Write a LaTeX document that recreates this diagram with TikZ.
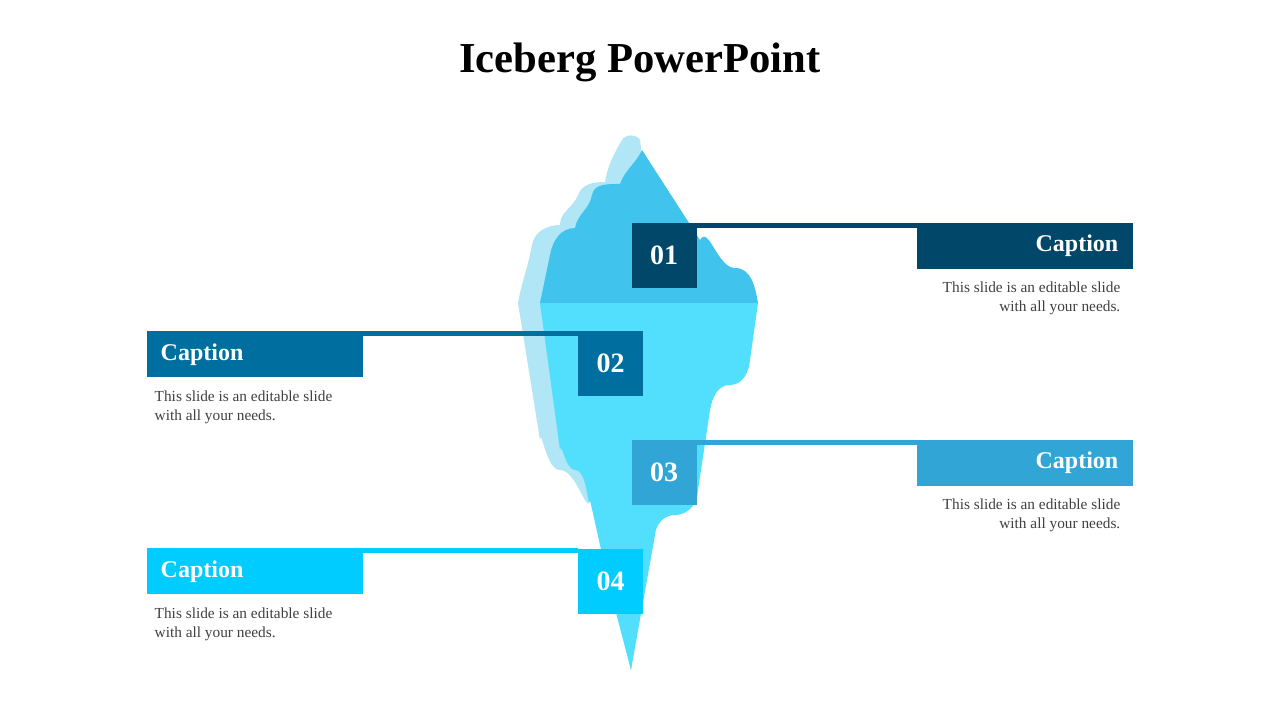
\documentclass[tikz,border=0pt]{standalone}
\usepackage{fontspec}
\setmainfont{Liberation Serif}
\begin{document}
\begin{tikzpicture}[x=0.75pt,y=-0.75pt,
  captxt/.style={text=white,font=\bfseries\fontsize{18}{20}\selectfont},
  num/.style={text=white,font=\bfseries\fontsize{21}{24}\selectfont},
  body/.style={text=black!75,font=\fontsize{11.5}{14.5}\selectfont,align=left}]
\definecolor{cA}{HTML}{01476A}\definecolor{cB}{HTML}{006E9E}
\definecolor{cC}{HTML}{31A6D6}\definecolor{cD}{HTML}{00CCFF}
\definecolor{back}{HTML}{B0E6F5}\definecolor{top}{HTML}{40C4EE}\definecolor{bot}{HTML}{52DEFD}
\path[use as bounding box,fill=white](0,0) rectangle (1280,720);
\node[font=\bfseries\fontsize{32}{36}\selectfont] (title) at (640,62) {Iceberg PowerPoint};
% iceberg
\fill[back] (631,670) -- (615,600) -- (590,500) to[out=-100,in=0] (560,470) to[out=180,in=85] (540,440) -- (518,303) to[out=80,in=-100] (532,245) to[out=80,in=180] (560,225) to[out=90,in=-110] (578,195) to[out=70,in=180] (605,182) to[out=80,in=-120] (622,140) to[out=60,in=120] (640,140) -- (660,300) -- (640,600) -- cycle;
\fill[top] (540,303) -- (550,255) to[out=80,in=180] (575,228) to[out=80,in=-100] (592,195) to[out=80,in=180] (620,184) to[out=70,in=-115] (642,150) -- (700,240) to[out=60,in=180] (735,268) to[out=0,in=100] (758,303) -- cycle;
\fill[bot] (540,303) -- (758,303) -- (750,360) to[out=-95,in=0] (730,385) to[out=180,in=80] (710,410) -- (698,490) to[out=-90,in=0] (675,515) to[out=180,in=85] (655,535) -- (631,670) -- (610,590) -- (590,500) to[out=-100,in=0] (575,470) to[out=180,in=80] (560,450) -- cycle;
% items
\fill[cA] (697,223) rectangle (1133,228);
\node[fill=cA,minimum width=216*0.75pt,minimum height=41*0.75pt,inner sep=0pt] (c1) at (1025,248.5) {};
\node[captxt,anchor=east] at (1123,246) {Caption};
\node[fill=cA,minimum size=65*0.75pt,inner sep=0pt,num] (n1) at (664,255.5) {01};
\node[body,anchor=north east,align=right] (t1) at (1125,277) {This slide is an editable slide\\with all your needs.};

\fill[cB] (147,331) rectangle (578,336);
\node[fill=cB,minimum width=216*0.75pt,minimum height=41*0.75pt,inner sep=0pt] (c2) at (255,356.5) {};
\node[captxt,anchor=west] at (156,355) {Caption};
\node[fill=cB,minimum size=65*0.75pt,inner sep=0pt,num] (n2) at (610.5,363.5) {02};
\node[body,anchor=north west] (t2) at (150,386) {This slide is an editable slide\\with all your needs.};

\fill[cC] (697,440) rectangle (1133,445);
\node[fill=cC,minimum width=216*0.75pt,minimum height=41*0.75pt,inner sep=0pt] (c3) at (1025,465.5) {};
\node[captxt,anchor=east] at (1123,463) {Caption};
\node[fill=cC,minimum size=65*0.75pt,inner sep=0pt,num] (n3) at (664,472.5) {03};
\node[body,anchor=north east,align=right] (t3) at (1125,494) {This slide is an editable slide\\with all your needs.};

\fill[cD] (147,548) rectangle (578,553);
\node[fill=cD,minimum width=216*0.75pt,minimum height=41*0.75pt,inner sep=0pt] (c4) at (255,573.5) {};
\node[captxt,anchor=west] at (156,572) {Caption};
\node[fill=cD,minimum size=65*0.75pt,inner sep=0pt,num] (n4) at (610.5,581) {04};
\node[body,anchor=north west] (t4) at (150,603) {This slide is an editable slide\\with all your needs.};
\end{tikzpicture}
\end{document}
